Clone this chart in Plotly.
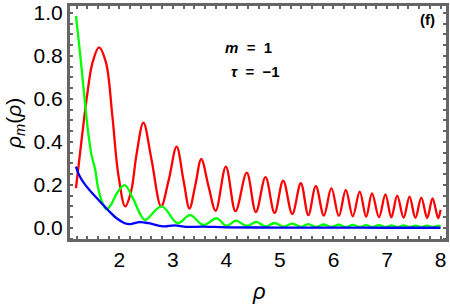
import plotly.graph_objects as go

# red curve
red_x = [1.19, 1.3, 1.4, 1.5, 1.62, 1.75, 1.87, 1.98, 2.11, 2.22, 2.32, 2.45, 2.6, 2.78,
         2.92, 3.07, 3.2, 3.31, 3.42, 3.53, 3.67, 3.80, 3.99, 4.17, 4.38, 4.55, 4.73, 4.90,
         5.06, 5.23, 5.39, 5.53, 5.67, 5.82, 5.96, 6.10, 6.23, 6.36, 6.49, 6.61, 6.72, 6.85,
         6.97, 7.08, 7.19, 7.31, 7.42, 7.53, 7.64, 7.75, 7.85, 7.955, 8.0]
red_y = [0.185, 0.42, 0.62, 0.77, 0.84, 0.77, 0.52, 0.25, 0.10, 0.17, 0.34, 0.49, 0.32, 0.10,
         0.22, 0.378, 0.22, 0.09, 0.2, 0.32, 0.19, 0.08, 0.285, 0.078, 0.257, 0.074, 0.236, 0.07,
         0.22, 0.065, 0.208, 0.06, 0.195, 0.058, 0.185, 0.056, 0.177, 0.054, 0.169, 0.052, 0.161, 0.05,
         0.156, 0.049, 0.15, 0.048, 0.146, 0.047, 0.141, 0.046, 0.138, 0.045, 0.084]

# green curve
green_x = [1.19, 1.25, 1.3, 1.36, 1.42, 1.48, 1.55, 1.6, 1.68, 1.76, 1.85, 1.95, 2.1, 2.25, 2.4,
           2.48, 2.79, 3.09, 3.32, 3.57, 3.82, 4.0, 4.18, 4.38, 4.56, 4.73, 4.9, 5.06, 5.23, 5.39,
           5.53, 5.67, 5.82, 5.96, 6.10, 6.23, 6.36, 6.49, 6.61, 6.72, 6.85, 6.97, 7.08, 7.19, 7.31,
           7.42, 7.53, 7.64, 7.75, 7.85, 7.955, 8.0]
green_y = [0.986, 0.85, 0.73, 0.58, 0.44, 0.34, 0.27, 0.19, 0.12, 0.087, 0.11, 0.16, 0.199, 0.14, 0.06,
           0.037, 0.10, 0.022, 0.06, 0.014, 0.045, 0.01, 0.034, 0.009, 0.028, 0.007, 0.023, 0.006, 0.02, 0.005,
           0.018, 0.005, 0.016, 0.004, 0.015, 0.004, 0.014, 0.004, 0.013, 0.004, 0.013, 0.004, 0.012, 0.004, 0.012,
           0.004, 0.011, 0.004, 0.011, 0.004, 0.011, 0.009]

# blue curve
blue_x = [1.19, 1.25, 1.35, 1.5, 1.65, 1.8, 1.95, 2.1, 2.2, 2.38, 2.55, 2.75, 2.85, 3.03, 3.25,
          3.55, 4.0, 5.0, 6.0, 7.0, 8.0]
blue_y = [0.285, 0.245, 0.205, 0.16, 0.12, 0.08, 0.045, 0.022, 0.018, 0.027, 0.022, 0.01, 0.007, 0.012, 0.005,
          0.006, 0.003, 0.002, 0.002, 0.001, 0.001]

# ticks: every 0.2 on x (labels at integers), every 0.05 on y (labels at multiples of 0.2)
x_tick_vals = [1.2, 1.4, 1.6, 1.8, 2.0, 2.2, 2.4, 2.6, 2.8, 3.0, 3.2, 3.4, 3.6, 3.8, 4.0,
               4.2, 4.4, 4.6, 4.8, 5.0, 5.2, 5.4, 5.6, 5.8, 6.0, 6.2, 6.4, 6.6, 6.8, 7.0,
               7.2, 7.4, 7.6, 7.8, 8.0]
x_tick_text = ["", "", "", "", "2", "", "", "", "", "3", "", "", "", "", "4",
               "", "", "", "", "5", "", "", "", "", "6", "", "", "", "", "7",
               "", "", "", "", "8"]
y_tick_vals = [-0.05, 0.0, 0.05, 0.1, 0.15, 0.2, 0.25, 0.3, 0.35, 0.4, 0.45, 0.5, 0.55, 0.6,
               0.65, 0.7, 0.75, 0.8, 0.85, 0.9, 0.95, 1.0]
y_tick_text = ["", "0.0", "", "", "", "0.2", "", "", "", "0.4", "", "", "", "0.6",
               "", "", "", "0.8", "", "", "", "1.0"]

fig = go.Figure()
for xs, ys, col in [(red_x, red_y, "rgb(255,0,0)"), (green_x, green_y, "rgb(0,255,0)"),
                    (blue_x, blue_y, "rgb(0,0,255)")]:
    fig.add_trace(go.Scatter(x=xs, y=ys, mode="lines",
                             line=dict(color=col, width=2.3, shape="spline", smoothing=1.0),
                             showlegend=False, hoverinfo="skip"))

frame = "#666666"
FAM = "Liberation Sans, Arial, sans-serif"
font = dict(family=FAM, size=21, color="#000000")
fig.update_xaxes(range=[1.06, 8.12], tickvals=x_tick_vals, ticktext=x_tick_text, ticks="inside",
                 ticklen=4, tickcolor=frame, tickwidth=1.5, showline=True, linecolor=frame, linewidth=2,
                 mirror="ticks", showgrid=False, zeroline=False, tickfont=font, automargin=False)
fig.update_yaxes(range=[-0.056, 1.037], tickvals=y_tick_vals, ticktext=y_tick_text, ticks="inside",
                 ticklen=4, tickcolor=frame, tickwidth=1.5, showline=True, linecolor=frame, linewidth=2,
                 mirror="ticks", showgrid=False, zeroline=False, tickfont=font, automargin=False)

L, R, T, B = 69, 447, 5, 240


def px_to_paper(px, py):
    return (px - L) / (R - L), (B - py) / (B - T)


ann_font = dict(family=FAM, size=15, color="#000000")
fig.update_layout(
    width=450, height=305,
    margin=dict(l=L, r=450 - R, t=T, b=305 - B, autoexpand=False),
    paper_bgcolor="white", plot_bgcolor="white",
)
fig.add_shape(type="rect", xref="paper", yref="paper", x0=0, y0=0, x1=1, y1=1,
              line=dict(color=frame, width=2), fillcolor="rgba(0,0,0,0)", layer="above")

x0, y0 = px_to_paper(259, 292)
fig.add_annotation(text="<i>ρ</i>", x=x0, y=y0, xref="paper", yref="paper", showarrow=False,
                   font=dict(family=FAM, size=22, color="#000"), xanchor="center", yanchor="middle")
x0, y0 = px_to_paper(15, 124)
fig.add_annotation(text="<i>ρ</i><sub><i>m</i></sub>(<i>ρ</i>)", x=x0, y=y0, xref="paper", yref="paper",
                   showarrow=False, textangle=-90, font=dict(family=FAM, size=21, color="#000"),
                   xanchor="center", yanchor="middle")
x0, y0 = px_to_paper(248, 47)
fig.add_annotation(text="<b><i>m</i>&nbsp;&nbsp;=&nbsp;&nbsp;1</b>", x=x0, y=y0, xref="paper", yref="paper",
                   showarrow=False, font=ann_font, xanchor="center", yanchor="middle")
x0, y0 = px_to_paper(255, 72)
fig.add_annotation(text="<b><i>τ</i>&nbsp;&nbsp;=&nbsp;&nbsp;−1</b>", x=x0, y=y0, xref="paper", yref="paper",
                   showarrow=False, font=ann_font, xanchor="center", yanchor="middle")
x0, y0 = px_to_paper(427, 20)
fig.add_annotation(text="<b>(f)</b>", x=x0, y=y0, xref="paper", yref="paper", showarrow=False,
                   font=ann_font, xanchor="center", yanchor="middle")

fig.write_html("out.html", config={"displayModeBar": False},
               post_script="document.body.style.margin='0';")
